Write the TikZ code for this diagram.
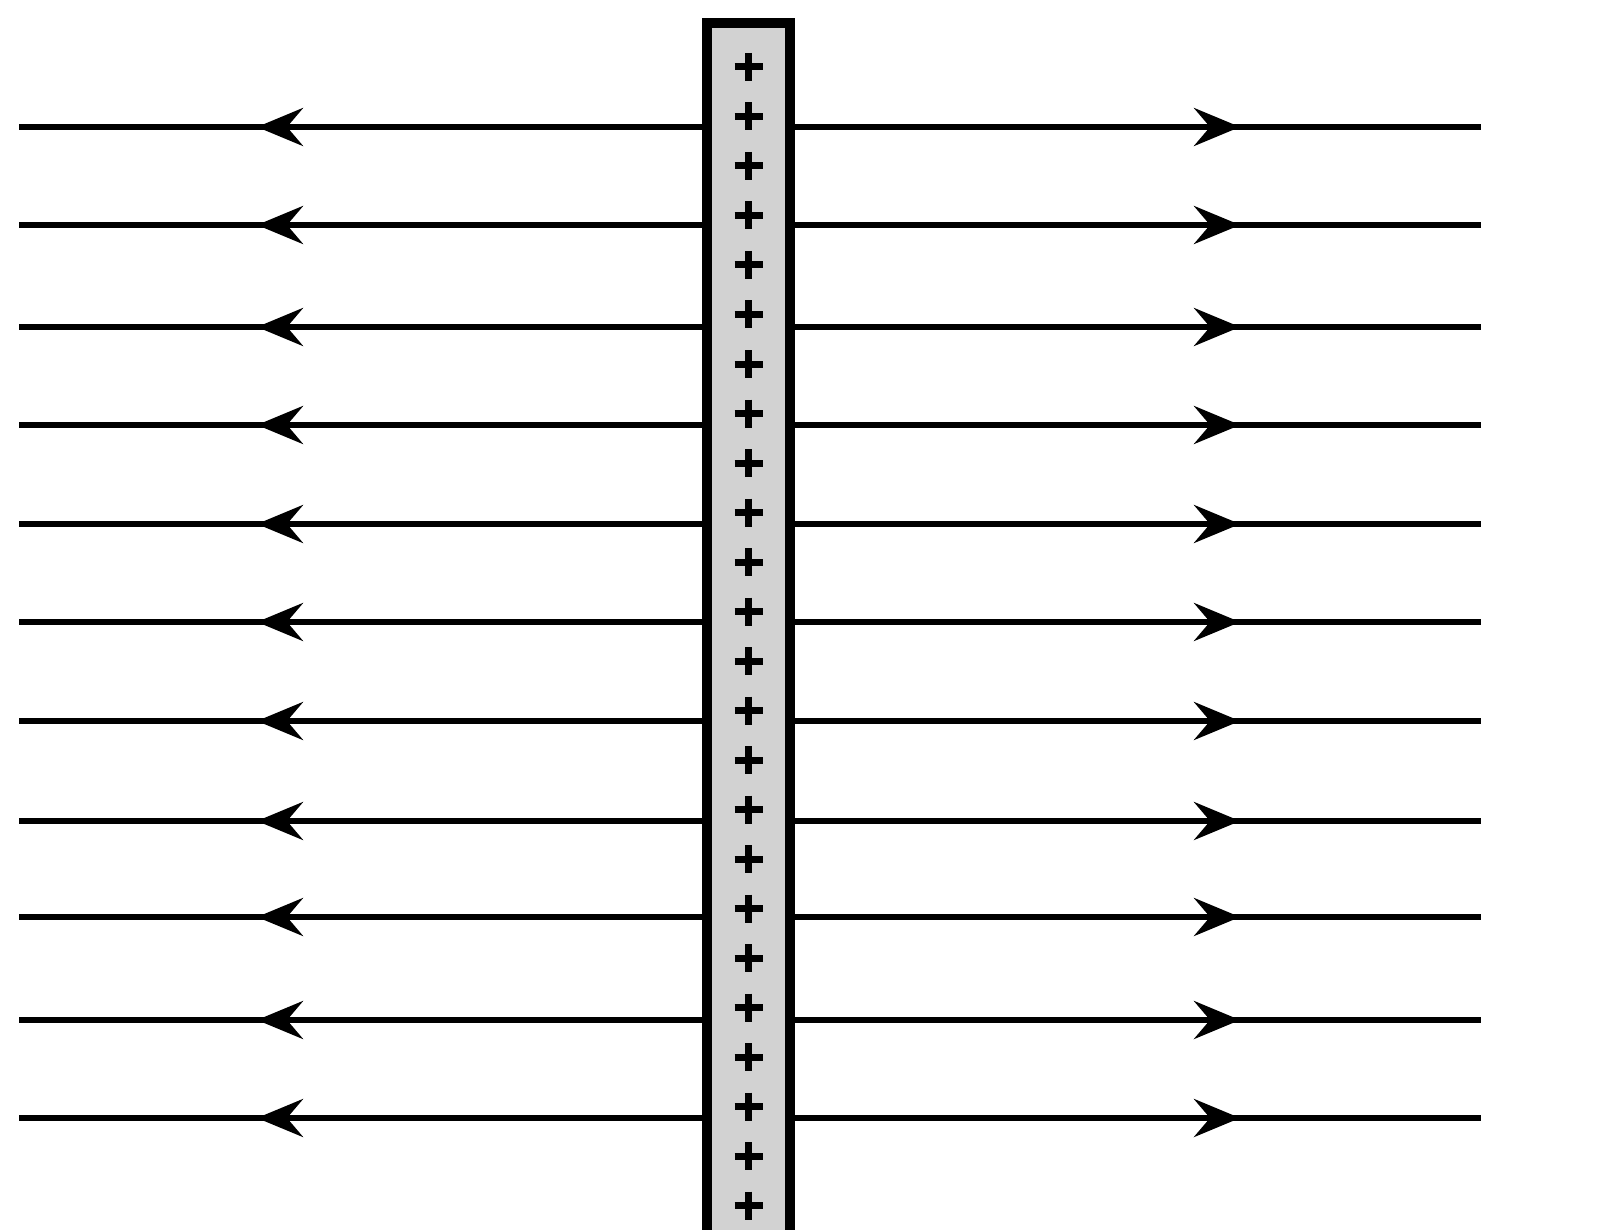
\documentclass[tikz,border=0pt]{standalone}
\usepackage{tikz}
\usetikzlibrary{arrows.meta, decorations.markings, positioning}
\tikzset{
    plus/.pic = {
    \draw[line width=7pt] (-#1,0) -- (#1,0);
    \draw[line width=7pt] (0,-#1) -- (0, #1);
    },
    plate/.style={rectangle, draw, line width=10pt, fill=gray!35, inner sep=0pt},
    fieldline/.style={line width=6pt, postaction={decorate},
      decoration={markings, mark=at position 445pt with {\arrow{Stealth[length=46pt,width=38pt,inset=16pt]}}}},
}

\begin{document}
\begin{tikzpicture}[x=1pt, y=-1pt]
    \useasboundingbox (0,0) rectangle (1616,1230);

    \node[plate, minimum width=83pt, minimum height=1222pt, anchor=north] (plate) at (748.5,18) {};

    % field lines leave the sheet on both sides
    \foreach \i/\y in {1/127, 2/225, 3/327, 4/425, 5/524, 6/622, 7/721, 8/821, 9/917, 10/1020, 11/1118} {
      \coordinate (l\i) at (19,\y);
      \coordinate (r\i) at (1481,\y);
      \draw[fieldline] (plate.west |- l\i) -- (l\i);
      \draw[fieldline] (plate.east |- r\i) -- (r\i);
    }

    % charges on the sheet
    \foreach \y in {0,...,23}
      \pic at (748.5,{67+49.5*\y}) {plus=14};
\end{tikzpicture}
\end{document}
